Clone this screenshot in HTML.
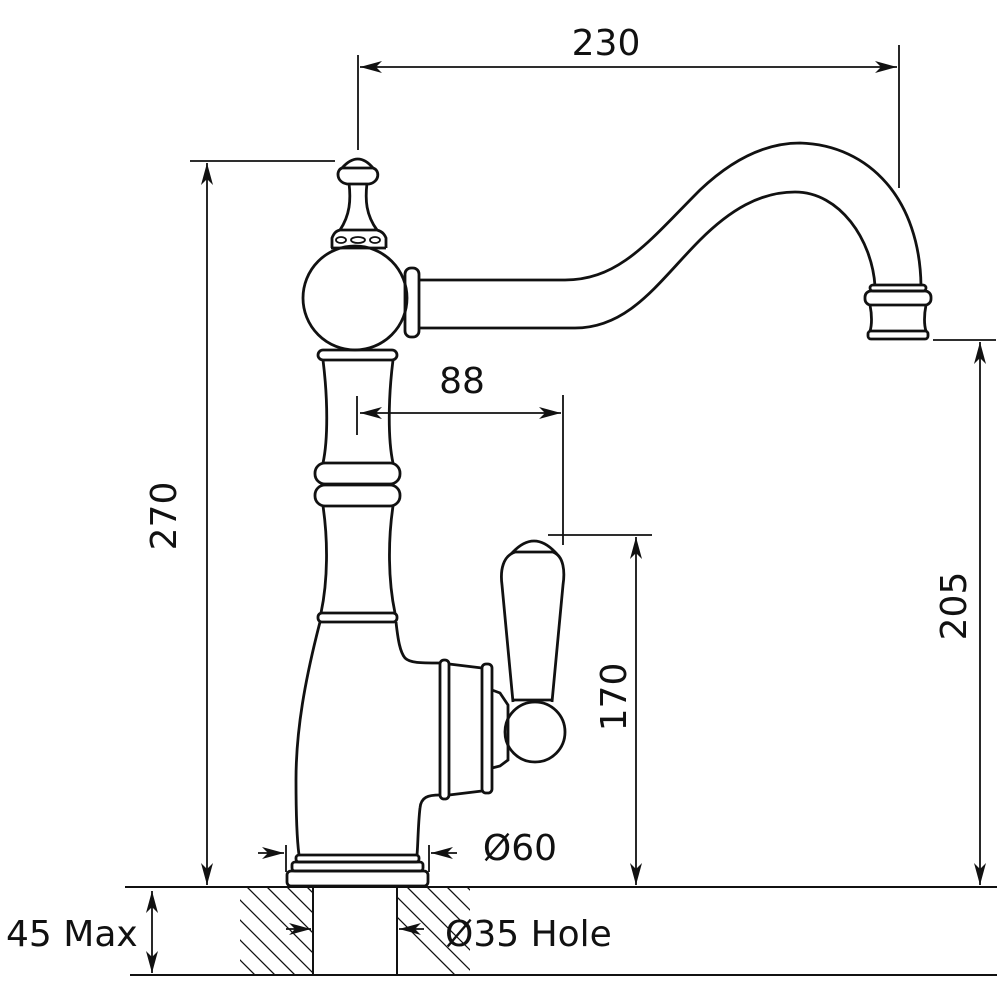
<!DOCTYPE html>
<html><head><style>html,body{margin:0;padding:0;background:#fff}svg{display:block}</style></head>
<body>
<svg width="1000" height="1000" viewBox="0 0 1000 1000" xmlns="http://www.w3.org/2000/svg">
<defs>
<marker id="a" viewBox="0 0 22 12" refX="22" refY="6" markerWidth="22" markerHeight="12" markerUnits="userSpaceOnUse" orient="auto-start-reverse">
<path d="M0,0 L22,6 L0,12 L6,6 Z" fill="#111"/></marker>
<clipPath id="hl"><rect x="240" y="888" width="72" height="86"/></clipPath>
<clipPath id="hr"><rect x="398" y="888" width="72" height="86"/></clipPath>
</defs>
<g fill="none" stroke="#111" stroke-width="2">
<line x1="125" y1="887" x2="997" y2="887"/>
<line x1="130" y1="975" x2="997" y2="975"/>
<line x1="313" y1="887" x2="313" y2="975"/>
<line x1="397" y1="887" x2="397" y2="975"/>
<g clip-path="url(#hl)" stroke-width="1.3">
<path d="M180,860 l120,120 M200,860 l120,120 M220,860 l120,120 M240,860 l120,120 M260,860 l120,120 M280,860 l120,120 M160,860 l120,120 M140,860 l120,120"/>
</g>
<g clip-path="url(#hr)" stroke-width="1.3">
<path d="M340,860 l120,120 M360,860 l120,120 M380,860 l120,120 M400,860 l120,120 M420,860 l120,120 M440,860 l120,120 M460,860 l120,120"/>
</g>
<g stroke-width="1.8">
<line x1="358" y1="55" x2="358" y2="150"/>
<line x1="899" y1="45" x2="899" y2="188"/>
<line x1="360" y1="67" x2="897" y2="67" marker-start="url(#a)" marker-end="url(#a)"/>
<line x1="190" y1="161" x2="335" y2="161"/>
<line x1="207" y1="163" x2="207" y2="885" marker-start="url(#a)" marker-end="url(#a)"/>
<line x1="933" y1="340" x2="996" y2="340"/>
<line x1="980" y1="342" x2="980" y2="885" marker-start="url(#a)" marker-end="url(#a)"/>
<line x1="548" y1="535" x2="652" y2="535"/>
<line x1="636" y1="537" x2="636" y2="885" marker-start="url(#a)" marker-end="url(#a)"/>
<line x1="357" y1="396" x2="357" y2="435"/>
<line x1="563" y1="395" x2="563" y2="545"/>
<line x1="360" y1="413" x2="561" y2="413" marker-start="url(#a)" marker-end="url(#a)"/>
<line x1="152" y1="891" x2="152" y2="973" marker-start="url(#a)" marker-end="url(#a)"/>
<line x1="286" y1="845" x2="286" y2="872"/>
<line x1="429" y1="845" x2="429" y2="872"/>
<line x1="258" y1="853" x2="284" y2="853" marker-end="url(#a)"/>
<line x1="457" y1="853" x2="431" y2="853" marker-end="url(#a)"/>
<line x1="286" y1="929" x2="311" y2="929" marker-end="url(#a)"/>
<line x1="424" y1="929" x2="399" y2="929" marker-end="url(#a)"/>
</g>
</g>
<g fill="none" stroke="#111" stroke-width="2.8">
<rect x="287" y="871" width="141" height="15" rx="4"/>
<rect x="292" y="862" width="131" height="9" rx="3"/>
<rect x="296" y="855" width="123" height="7" rx="3"/>
<path d="M320,622 C305,680 296,730 296,780 C296,815 297,840 299,855"/>
<path d="M396,622 C398,640 400,652 405,658 C410,663 420,663 440,663"/>
<path d="M440,795 C428,795 421,797 420,808 C418,825 418,845 417,855"/>
<rect x="318" y="613" width="79" height="9" rx="4"/>
<rect x="440" y="660" width="9" height="139" rx="4"/>
<path d="M449,664 L482,668 M449,795 L482,791"/>
<rect x="482" y="664" width="10" height="129" rx="4"/>
<path d="M492,690 L500,693 L508,705 L508,760 L500,766 L492,768"/>
<circle cx="535" cy="732" r="30"/>
<path d="M513,700 L552,700"/>
<path d="M515,552 C503,556 500,570 502,585 L513,702 M553,552 C564,556 565,572 563,585 L552,702"/>
<path d="M513,552 Q534,530 555,552 Z"/>
<rect x="318" y="350" width="79" height="10" rx="5"/>
<path d="M323,360 C328,400 328,440 323,463 M393,360 C388,400 388,440 393,463"/>
<rect x="315" y="463" width="85" height="21" rx="10"/>
<rect x="315" y="485" width="85" height="21" rx="10"/>
<path d="M323,506 C328,540 328,580 321,613 M393,506 C388,540 388,580 395,613"/>
<circle cx="355" cy="298" r="52"/>
<rect x="405" y="268" width="14" height="69" rx="6"/>
<path d="M332,248 L332,238 C334,233 336,231 340,230 L377,230 C381,231 384,233 386,238 L386,248" />
<path d="M331,248 L386,248"/>
<ellipse cx="341" cy="240" rx="5" ry="3" stroke-width="1.8"/>
<ellipse cx="358" cy="240" rx="7" ry="3" stroke-width="1.8"/>
<ellipse cx="375" cy="240" rx="5" ry="3" stroke-width="1.8"/>
<path d="M349,183 C351,200 350,215 340,230 M367,183 C365,200 366,215 377,230"/>
<path d="M347,184 C336,182 336,170 342,168 L373,168 C380,170 380,182 369,184 Z"/>
<path d="M342,168 Q358,150 373,168"/>
<path d="M419,280 L565,280 C620,280 650,240 700,190 C740,152 775,143 800,143 C870,145 920,200 921,286"/>
<path d="M419,328 L575,328 C630,328 660,280 700,240 C730,210 760,192 795,192 C840,192 872,240 875,286"/>
<rect x="870" y="285" width="56" height="6" rx="3"/>
<rect x="865" y="291" width="66" height="14" rx="6"/>
<path d="M870,305 C872,315 872,325 870,331 M926,305 C924,315 924,325 926,331"/>
<rect x="868" y="331" width="60" height="8" rx="3"/>
</g>
<g font-family="'DejaVu Sans','Liberation Sans',sans-serif" font-size="36" fill="#111">
<text x="606" y="55" text-anchor="middle">230</text>
<text x="462" y="393" text-anchor="middle">88</text>
<text x="520" y="860" text-anchor="middle">Ø60</text>
<text x="445" y="946">Ø35 Hole</text>
<text x="6" y="946">45 Max</text>
<text transform="translate(176,516) rotate(-90)" text-anchor="middle">270</text>
<text transform="translate(966,606) rotate(-90)" text-anchor="middle">205</text>
<text transform="translate(626,697) rotate(-90)" text-anchor="middle">170</text>
</g>
</svg>
</body></html>
